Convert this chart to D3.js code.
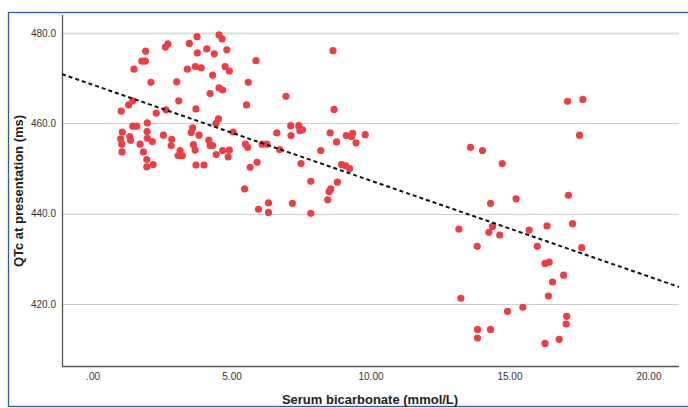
<!DOCTYPE html>
<html><head><meta charset="utf-8">
<script src="https://cdn.jsdelivr.net/npm/d3@7/dist/d3.min.js"></script>
<style>
html,body{margin:0;padding:0;background:#fff;}
svg{display:block;font-family:"Liberation Sans",Arial,sans-serif;}
</style></head>
<body>
<svg id="chart" width="688" height="408"></svg>
<script>
// Serum bicarbonate (mmol/L)
const bicarbonate = [
4.55,4.66,3.76,3.48,2.71,2.62,4.11,4.83,1.91,3.77,4.38,1.77,1.90,3.41,3.70,3.91,4.77,4.92,1.49,4.32,
2.10,3.03,4.23,4.55,4.68,3.10,1.45,1.30,1.03,2.29,2.64,3.72,4.53,4.44,5.06,1.45,1.59,1.97,1.07,1.96,
3.55,3.60,3.83,2.55,1.01,1.34,1.37,1.97,2.15,2.85,4.18,1.05,1.71,2.83,3.63,4.23,4.32,1.06,1.83,3.15,
3.69,4.68,4.92,3.08,3.23,4.45,4.88,1.95,2.18,1.95,3.72,4.01,
8.65,5.88,5.60,6.96,5.54,8.69,7.13,7.42,7.55,7.46,6.63,7.14,8.55,9.13,9.36,9.32,9.81,8.78,9.48,5.50,
5.58,6.10,6.27,6.73,8.21,7.50,5.92,5.67,8.96,9.11,9.25,7.85,8.81,8.57,8.51,5.47,8.46,6.33,7.19,5.97,
6.33,7.85,13.18,13.84,13.25,13.85,13.85,13.60,14.03,
17.09,17.64,17.52,14.74,17.12,15.24,14.32,14.39,14.26,14.65,15.71,16.35,17.27,16.00,17.60,16.28,16.43,
16.95,16.55,16.40,14.93,15.48,17.06,17.04,14.32,16.79,16.28
];
// QTc at presentation (ms)
const qtc = [
479.6,478.7,479.2,477.7,477.6,476.9,476.5,476.3,476.0,475.6,475.4,473.8,473.8,472.0,472.6,472.3,472.6,471.6,472.0,470.7,
469.1,469.2,466.6,467.9,467.4,465.0,465.0,464.1,462.7,462.3,463.0,463.2,461.0,460.0,458.1,459.4,459.4,460.1,458.1,458.2,
458.0,459.0,457.4,457.4,456.6,457.1,456.3,456.7,456.0,456.5,456.3,455.4,455.4,455.1,455.3,455.1,455.1,453.7,453.7,454.0,
454.1,454.0,454.1,452.9,452.9,453.1,452.6,452.0,450.9,450.4,450.8,450.8,
476.1,473.9,469.1,466.0,464.1,463.1,459.5,459.5,458.6,458.4,457.9,457.3,457.9,457.3,457.8,457.1,457.5,455.9,455.7,455.4,
454.7,455.4,455.4,454.2,454.0,451.1,451.4,450.3,450.9,450.6,450.0,447.2,447.0,445.5,444.9,445.5,443.1,442.4,442.3,441.0,
440.3,440.1,436.6,432.8,421.3,414.4,412.5,454.7,454.0,
464.9,465.3,457.4,451.1,444.1,443.3,442.3,437.2,435.9,435.3,436.4,437.3,437.8,432.8,432.5,429.0,429.3,
426.4,424.9,421.8,418.4,419.3,417.3,415.6,414.4,412.2,411.3
];
// Fit line end points
const fitX = [-1.1, 21.1];
const fitY = [470.9, 423.8];
const xTicks = [0, 5, 10, 15, 20];
const xTickLabels = [".00", "5.00", "10.00", "15.00", "20.00"];
const yTicks = [420, 440, 460, 480];
const yTickLabels = ["420.0", "440.0", "460.0", "480.0"];
const xDomain = [-1.1, 21.1];
const yDomain = [406.3, 484.0];

const svg = d3.select("#chart");
const L = 62, R = 679, T = 15, B = 366;
const x = d3.scaleLinear().domain(xDomain).range([L, R]);
const y = d3.scaleLinear().domain(yDomain).range([B, T]);

// outer frame
svg.append("rect").attr("x", 8.5).attr("y", 12.5).attr("width", 700).attr("height", 394)
  .attr("fill", "none").attr("stroke", "#2f5aa8").attr("stroke-width", 1.3);

// gridlines
svg.append("g").selectAll("line").data(yTicks).join("line")
  .attr("x1", L).attr("x2", R)
  .attr("y1", d => Math.round(y(d)) + 0.5).attr("y2", d => Math.round(y(d)) + 0.5)
  .attr("stroke", d => d === 480 ? "#dcdcdc" : "#cfcfcf")
  .attr("stroke-width", d => d === 480 ? 2 : 1);

// axes
const yAxis = d3.axisLeft(y).tickValues(yTicks).tickSize(0).tickPadding(6)
  .tickFormat((d, i) => yTickLabels[i]);
const gy = svg.append("g").attr("transform", `translate(${L},0)`).call(yAxis);
gy.select(".domain").remove();
gy.selectAll("text").attr("font-size", 10).attr("fill", "#333")
  .attr("font-family", "Liberation Sans, Arial, sans-serif");

const xAxis = d3.axisBottom(x).tickValues(xTicks).tickSize(0).tickPadding(7)
  .tickFormat((d, i) => xTickLabels[i]);
const gx = svg.append("g").attr("transform", `translate(0,${B})`).call(xAxis);
gx.select(".domain").remove();
gx.selectAll("text").attr("font-size", 10).attr("fill", "#333")
  .attr("font-family", "Liberation Sans, Arial, sans-serif");

svg.append("line").attr("x1", L + 0.5).attr("x2", L + 0.5).attr("y1", T).attr("y2", B + 1)
  .attr("stroke", "#555").attr("stroke-width", 1.3);
svg.append("line").attr("x1", L).attr("x2", R).attr("y1", B + 0.5).attr("y2", B + 0.5)
  .attr("stroke", "#555").attr("stroke-width", 1.3);

// points
const pts = bicarbonate.map((v, i) => ({x: v, y: qtc[i]}));
svg.append("g").selectAll("circle").data(pts).join("circle")
  .attr("cx", d => x(d.x)).attr("cy", d => y(d.y)).attr("r", 3.6)
  .attr("fill", "#ec3f45");

// fit line
svg.append("line")
  .attr("x1", x(fitX[0])).attr("y1", y(fitY[0]))
  .attr("x2", x(fitX[1])).attr("y2", y(fitY[1]))
  .attr("stroke", "#111").attr("stroke-width", 2).attr("stroke-dasharray", "4,3");

// axis titles
svg.append("text").attr("x", 370).attr("y", 404).attr("text-anchor", "middle")
  .attr("font-size", 13).attr("font-weight", "bold").attr("fill", "#222")
  .text("Serum bicarbonate (mmol/L)");
svg.append("text").attr("transform", "translate(23,191) rotate(-90)").attr("text-anchor", "middle")
  .attr("font-size", 13).attr("font-weight", "bold").attr("fill", "#222")
  .text("QTc at presentation (ms)");
</script>
</body></html>
